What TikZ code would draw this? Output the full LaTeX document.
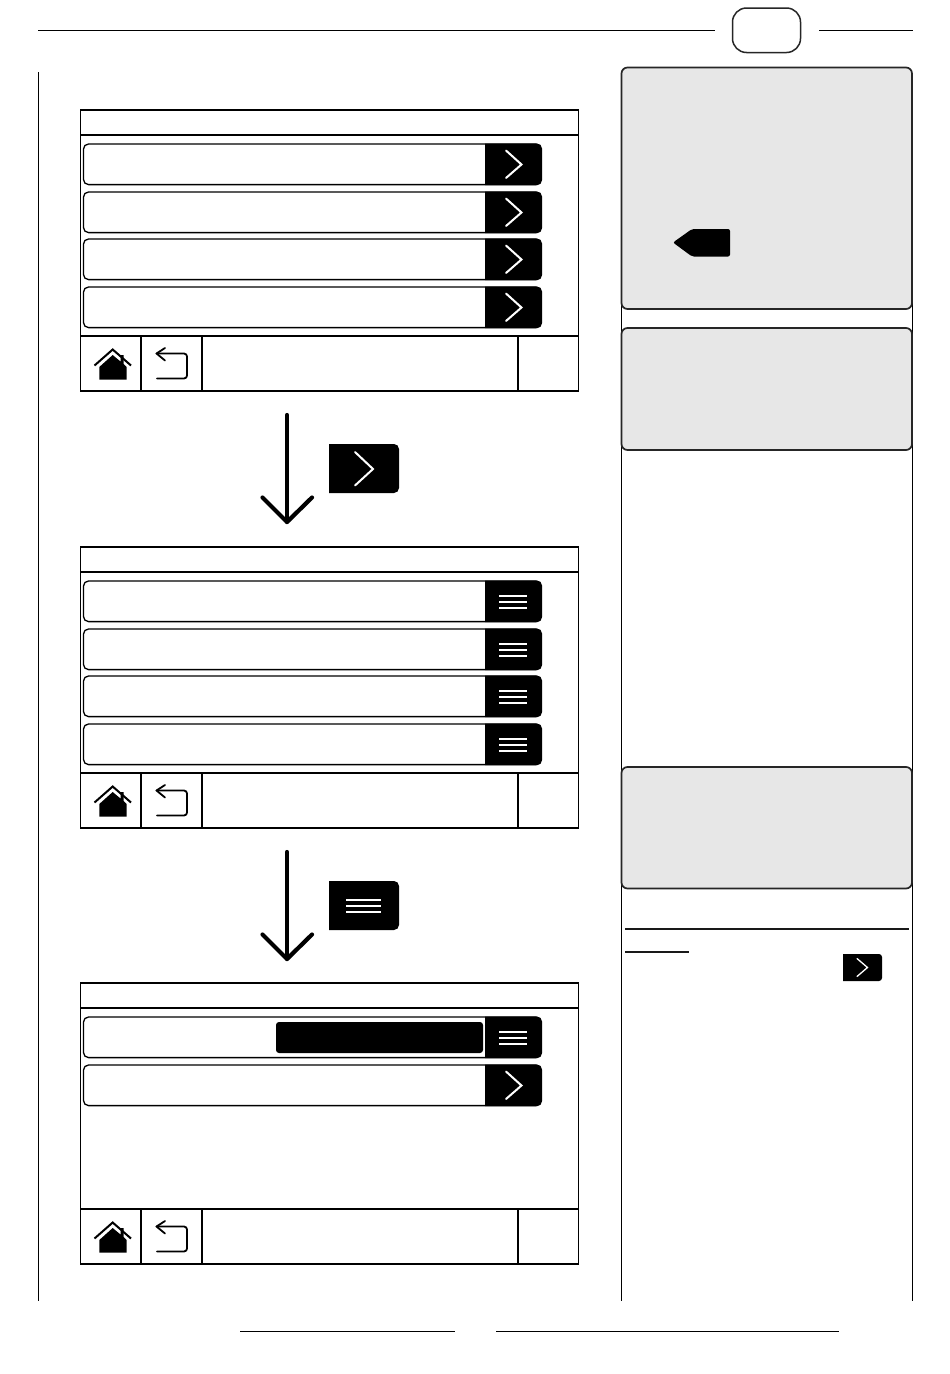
\documentclass[tikz,border=0pt]{standalone}
\tikzset{
  frameline/.style={draw=black,line width=1.3pt,outer sep=0pt},
  sepline/.style={draw=black,line width=2.2pt},
  rowbox/.style={draw=black,line width=1.3pt,rounded corners=5pt,fill=white},
  blackfill/.style={fill=black,draw=none},
  whitestroke/.style={draw=white,line width=2pt},
  panel/.style={draw=black!85,line width=1.7pt,rounded corners=6pt,fill=black!9.5},
  rule/.style={draw=black,line width=1.2pt},
  flow/.style={draw=black,line width=4.2pt,line cap=round,line join=round},
  iconline/.style={draw=black,line width=1.8pt,line cap=round,line join=round},
}
\newcommand{\chevron}[1]{\draw[whitestroke,line cap=round,line join=miter] (506,#1-14) -- (521.5,#1) -- (506,#1+13.5);}
\newcommand{\burger}[1]{\foreach \d in {-6,0,6} \draw[whitestroke] (499,#1+\d) -- (527,#1+\d);}
\newcommand{\rowtab}[1]{%
  \draw[rowbox] (83.5,#1) rectangle (541,#1+40.6);
  \path[blackfill,rounded corners=5pt] (485,#1-0.5) -- (542,#1-0.5) -- (542,#1+41.2) [sharp corners] -- (485,#1+41.2) -- cycle;
}
\newcommand{\scrn}[2]{%
  \node[frameline,minimum width=498pt,minimum height=281pt,inner sep=0pt,anchor=north west] (#2) at (80.5,#1+110) {};
  \draw[sepline] (80.5,#1+135) -- (578.5,#1+135);
  \draw[sepline] (80.5,#1+336) -- (578.5,#1+336);
  \draw[sepline] (141,#1+336) -- (141,#1+391);
  \draw[sepline] (202,#1+336) -- (202,#1+391);
  \draw[sepline] (518,#1+336) -- (518,#1+391);
  % home icon
  \draw[line width=2pt,draw=black,line join=miter] (94.5,#1+365.5) -- (112.7,#1+349.5) -- (131,#1+365.5);
  \path[blackfill] (99.3,#1+379.5) -- (99.3,#1+367) -- (112.7,#1+355) -- (120.5,#1+361.5) -- (120.5,#1+355) -- (123.5,#1+355) -- (123.5,#1+364) -- (126.7,#1+367) -- (126.7,#1+379.5) -- cycle;
  % back icon
  \draw[iconline] (157,#1+378.5) -- (182,#1+378.5) [rounded corners=3pt] -- (187,#1+378.5) -- (187,#1+353.5) [sharp corners] -- (156.5,#1+353.5);
  \draw[iconline] (165,#1+348) -- (156.5,#1+353.5) -- (165,#1+360.5);
}
\begin{document}
\begin{tikzpicture}[x=1pt,y=-1pt]
\useasboundingbox (0,0) rectangle (950,1374);
\fill[white] (0,0) rectangle (950,1374);

% page furniture
\coordinate (tl) at (38,30.5); \coordinate (tm) at (715,30.5);
\coordinate (tr1) at (819,30.5); \coordinate (tr2) at (913,30.5);
\draw[rule] (tl) -- (tm);
\draw[rule] (tr1) -- (tr2);
\node[draw=black!85,line width=1.5pt,outer sep=0pt,rounded corners=14pt,minimum width=68pt,minimum height=44.5pt,inner sep=0pt,anchor=north west] (pagebox) at (732.5,8) {};
\draw[rule] (38.5,72) -- (38.5,1301);
\draw[rule] (621.5,300) -- (621.5,1301);
\draw[rule] (912.5,300) -- (912.5,1301);
\draw[rule] (240,1331.5) -- (455,1331.5);
\draw[rule] (496,1331.5) -- (839,1331.5);

% screen 1
\scrn{0}{screenA}
\foreach \y in {144,192,239,287} {\rowtab{\y}\chevron{\y+20.5}}
% screen 2
\scrn{437}{screenB}
\foreach \y in {581,629,676,724} {\rowtab{\y}\burger{\y+20.5}}
% screen 3
\scrn{873}{screenC}
\rowtab{1017}\burger{1037.5}
\rowtab{1065}\chevron{1085.5}
\path[blackfill,rounded corners=3pt] (276,1022) rectangle (483,1053);

% flow arrows
\coordinate (a1s) at (287,415); \coordinate (a1e) at (287,522);
\coordinate (a2s) at (287,852); \coordinate (a2e) at (287,959);
\draw[flow] (a1s) -- (a1e);
\draw[flow] (262.5,497.5) -- (a1e) -- (312,497.5);
\draw[flow] (a2s) -- (a2e);
\draw[flow] (262.5,934.5) -- (a2e) -- (312,934.5);

% large keys
\path[blackfill,rounded corners=5pt] (329,444) -- (399,444) -- (399,493) [sharp corners] -- (329,493) -- cycle;
\draw[whitestroke,line cap=round] (355,452) -- (373,469) -- (355,485.5);
\path[blackfill,rounded corners=5pt] (329,881) -- (399,881) -- (399,930) [sharp corners] -- (329,930) -- cycle;
\foreach \d in {-6,0,6} \draw[draw=white,line width=2pt] (346,905.5+\d) -- (381,905.5+\d);

% side panels
\draw[panel] (621.5,67.5) rectangle (912,309);
\draw[panel] (621.5,328) rectangle (912,450);
\draw[panel] (621.5,767) rectangle (912,888.5);
\path[blackfill,rounded corners=2pt] (673,242.5) -- (692,229) -- (730,229) -- (730,256.5) -- (692,256.5) -- cycle;

% underlines and small key
\draw[draw=black!90,line width=2pt] (625,929) -- (908.5,929);
\draw[draw=black!90,line width=2pt] (625,952) -- (688.5,952);
\path[blackfill,rounded corners=3pt] (843,954) -- (882,954) -- (882,981) [sharp corners] -- (843,981) -- cycle;
\draw[draw=white,line width=1.3pt,line cap=round] (857,958.5) -- (867.5,967.5) -- (857,976.5);
\end{tikzpicture}
\end{document}
